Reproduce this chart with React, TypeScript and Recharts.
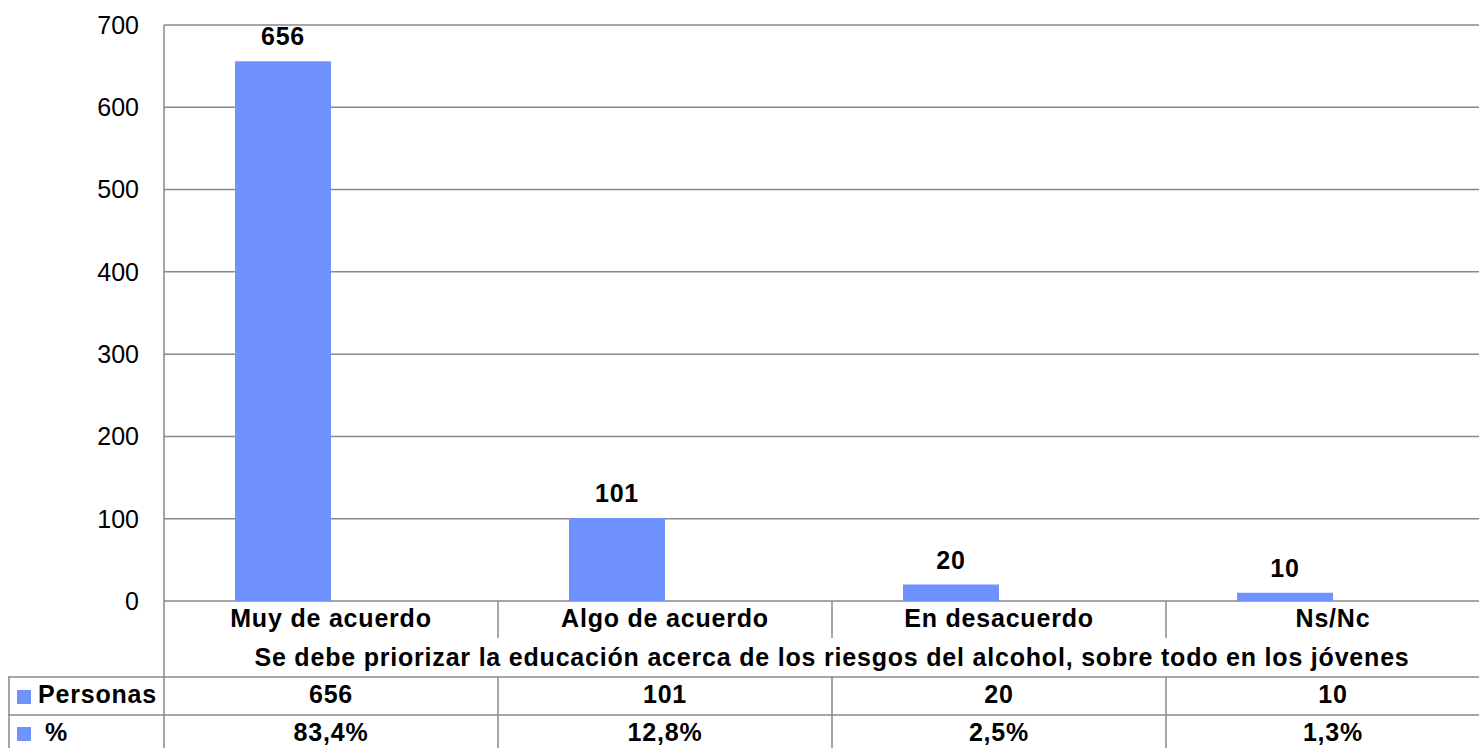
import { BarChart, Bar, XAxis, YAxis, CartesianGrid, LabelList } from "recharts";

const categories = ["Muy de acuerdo", "Algo de acuerdo", "En desacuerdo", "Ns/Nc"];
const personas = [656, 101, 20, 10];
const porcentaje = [83.4, 12.8, 2.5, 1.3];
const yTicks = [0, 100, 200, 300, 400, 500, 600, 700];
const axisTitle =
  "Se debe priorizar la educación acerca de los riesgos del alcohol, sobre todo en los jóvenes";
const rowLabels = ["Personas", "%"];

const data = categories.map((c, i) => ({
  cat: c,
  personas: personas[i],
  pct: porcentaje[i] / 100,
}));

const W = 1500;
const H = 748;
const PLOT_LEFT = 164;
const PLOT_BOTTOM = 601;
const BLUE = "#7092FF";
const GRID = "#898989";
const FONT = "'Liberation Sans', Arial, sans-serif";

const fmtPct = (v: number) => v.toFixed(1).replace(".", ",") + "%";

function TableTick(props: any) {
  const { x, payload } = props;
  const i = payload.index;
  const band = (W - PLOT_LEFT) / categories.length;
  const right = x + band / 2;
  const txt = {
    fontFamily: FONT,
    fontSize: 25,
    fontWeight: "bold",
    fill: "#000",
    letterSpacing: 0.8,
  } as const;
  return (
    <g>
      <text x={x} y={627} textAnchor="middle" {...txt}>
        {payload.value}
      </text>
      <text x={x} y={703} textAnchor="middle" {...txt}>
        {personas[i]}
      </text>
      <text x={x} y={741} textAnchor="middle" {...txt}>
        {fmtPct(porcentaje[i])}
      </text>
      <line x1={right} x2={right} y1={PLOT_BOTTOM} y2={638} stroke={GRID} strokeWidth={1.5} />
      <line x1={right} x2={right} y1={677} y2={H} stroke={GRID} strokeWidth={1.5} />
      {i === 0 && (
        <g>
          <text x={(PLOT_LEFT + W) / 2} y={666} textAnchor="middle" {...txt}>
            {axisTitle}
          </text>
          <line x1={8} x2={W} y1={677} y2={677} stroke={GRID} strokeWidth={1.5} />
          <line x1={8} x2={W} y1={715} y2={715} stroke={GRID} strokeWidth={1.5} />
          <line x1={9} x2={9} y1={677} y2={H} stroke={GRID} strokeWidth={1.5} />
          <line x1={PLOT_LEFT} x2={PLOT_LEFT} y1={PLOT_BOTTOM} y2={H} stroke={GRID} strokeWidth={1.5} />
          <rect x={17} y={690} width={14} height={14} fill={BLUE} />
          <text x={38} y={703} {...txt}>
            {rowLabels[0]}
          </text>
          <rect x={17} y={727} width={14} height={14} fill={BLUE} />
          <text x={45} y={741} {...txt}>
            {rowLabels[1]}
          </text>
        </g>
      )}
    </g>
  );
}

export default function App() {
  return (
    <div
      style={{
        position: "absolute",
        left: 0,
        top: 0,
        width: 1479,
        height: H,
        overflow: "hidden",
        background: "#fff",
      }}
    >
      <BarChart
        width={W}
        height={H}
        data={data}
        margin={{ top: 25, right: 0, left: 0, bottom: 0 }}
        barCategoryGap={71}
        barGap={0}
      >
        <CartesianGrid vertical={false} stroke={GRID} strokeWidth={1.5} />
        <YAxis
          width={PLOT_LEFT}
          domain={[0, 700]}
          ticks={yTicks}
          tickLine={false}
          tickSize={0}
          tickMargin={25}
          axisLine={{ stroke: GRID, strokeWidth: 1.5 }}
          tick={{ fontFamily: FONT, fontSize: 25, fill: "#000" }}
        />
        <XAxis
          dataKey="cat"
          height={H - PLOT_BOTTOM}
          interval={0}
          tickLine={false}
          axisLine={false}
          tick={<TableTick />}
        />
        <Bar dataKey="personas" fill={BLUE} isAnimationActive={false}>
          <LabelList
            dataKey="personas"
            position="top"
            offset={16}
            fill="#000"
            fontFamily={FONT}
            fontSize={25}
            fontWeight="bold"
            letterSpacing={0.8}
          />
        </Bar>
        <Bar dataKey="pct" fill={BLUE} fillOpacity={0} isAnimationActive={false} />
      </BarChart>
    </div>
  );
}
